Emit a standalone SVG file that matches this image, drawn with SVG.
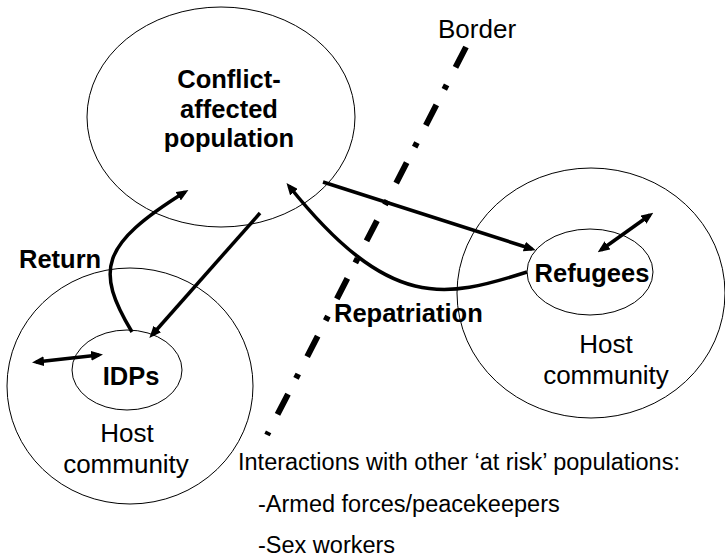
<svg xmlns="http://www.w3.org/2000/svg" width="725" height="558" viewBox="0 0 725 558">
  <defs>
    <style>
      .ring { fill: none; stroke: #000; stroke-width: 1; }
      .lbl { font-family: "Liberation Sans", Arial, sans-serif; fill: #000; }
      .b { font-weight: bold; font-size: 25.5px; }
      .r { font-size: 26px; }
      .s { font-size: 23.5px; }
      .mid { text-anchor: middle; }
      .arr { fill: none; stroke: #000; stroke-width: 3.5; marker-end: url(#ah); }
      .dbl { fill: none; stroke: #000; stroke-width: 3.5; marker-start: url(#ah); marker-end: url(#ah); }
      .border { fill: none; stroke: #000; stroke-width: 6; stroke-dasharray: 23 19.5 5 17.5; }
    </style>
    <marker id="ah" viewBox="0 0 12 10" refX="8" refY="5" markerWidth="12" markerHeight="10" markerUnits="userSpaceOnUse" orient="auto-start-reverse">
      <path d="M0,0 L12,5 L0,10 z" fill="#000"/>
    </marker>
  </defs>

  <rect width="725" height="558" fill="#fff"/>

  <g id="conflict">
    <ellipse class="ring" cx="221" cy="117" rx="134" ry="110"/>
    <text class="lbl b mid" x="229" y="88">Conflict-</text>
    <text class="lbl b mid" x="229" y="118">affected</text>
    <text class="lbl b mid" x="229" y="147">population</text>
  </g>

  <g id="host-left">
    <ellipse class="ring" cx="130" cy="386" rx="123" ry="118"/>
    <text class="lbl r mid" x="127" y="442">Host</text>
    <text class="lbl r mid" x="126" y="473">community</text>
  </g>

  <g id="idps">
    <ellipse class="ring" cx="127" cy="370" rx="55" ry="40"/>
    <text class="lbl b mid" x="131" y="385">IDPs</text>
  </g>

  <g id="host-right">
    <ellipse class="ring" cx="591" cy="293" rx="134" ry="125"/>
    <text class="lbl r mid" x="606" y="353">Host</text>
    <text class="lbl r mid" x="606" y="384">community</text>
  </g>

  <g id="refugees">
    <ellipse class="ring" cx="590" cy="272" rx="63" ry="43"/>
    <text class="lbl b mid" x="592" y="282">Refugees</text>
  </g>

  <g id="border">
    <path class="border" d="M466,47 L267,435"/>
    <text class="lbl r" x="438" y="38">Border</text>
  </g>

  <g id="connectors">
    <path class="arr" d="M323,182 L532,249"/>
    <path class="arr" d="M527,272 C445,298 390,312 289,186"/>
    <path class="arr" d="M132,332 C95,270 100,245 185,192"/>
    <path class="arr" d="M260,213 L152,335"/>
    <path class="dbl" d="M36,362 L99,355"/>
    <path class="dbl" d="M601,250 L650,215"/>
  </g>

  <g id="labels">
    <text class="lbl b" x="19" y="268">Return</text>
    <text class="lbl b" x="334" y="322">Repatriation</text>
    <text class="lbl s" x="238" y="470">Interactions with other ‘at risk’ populations:</text>
    <text class="lbl s" x="258" y="512">-Armed forces/peacekeepers</text>
    <text class="lbl s" x="258" y="553">-Sex workers</text>
  </g>
</svg>
